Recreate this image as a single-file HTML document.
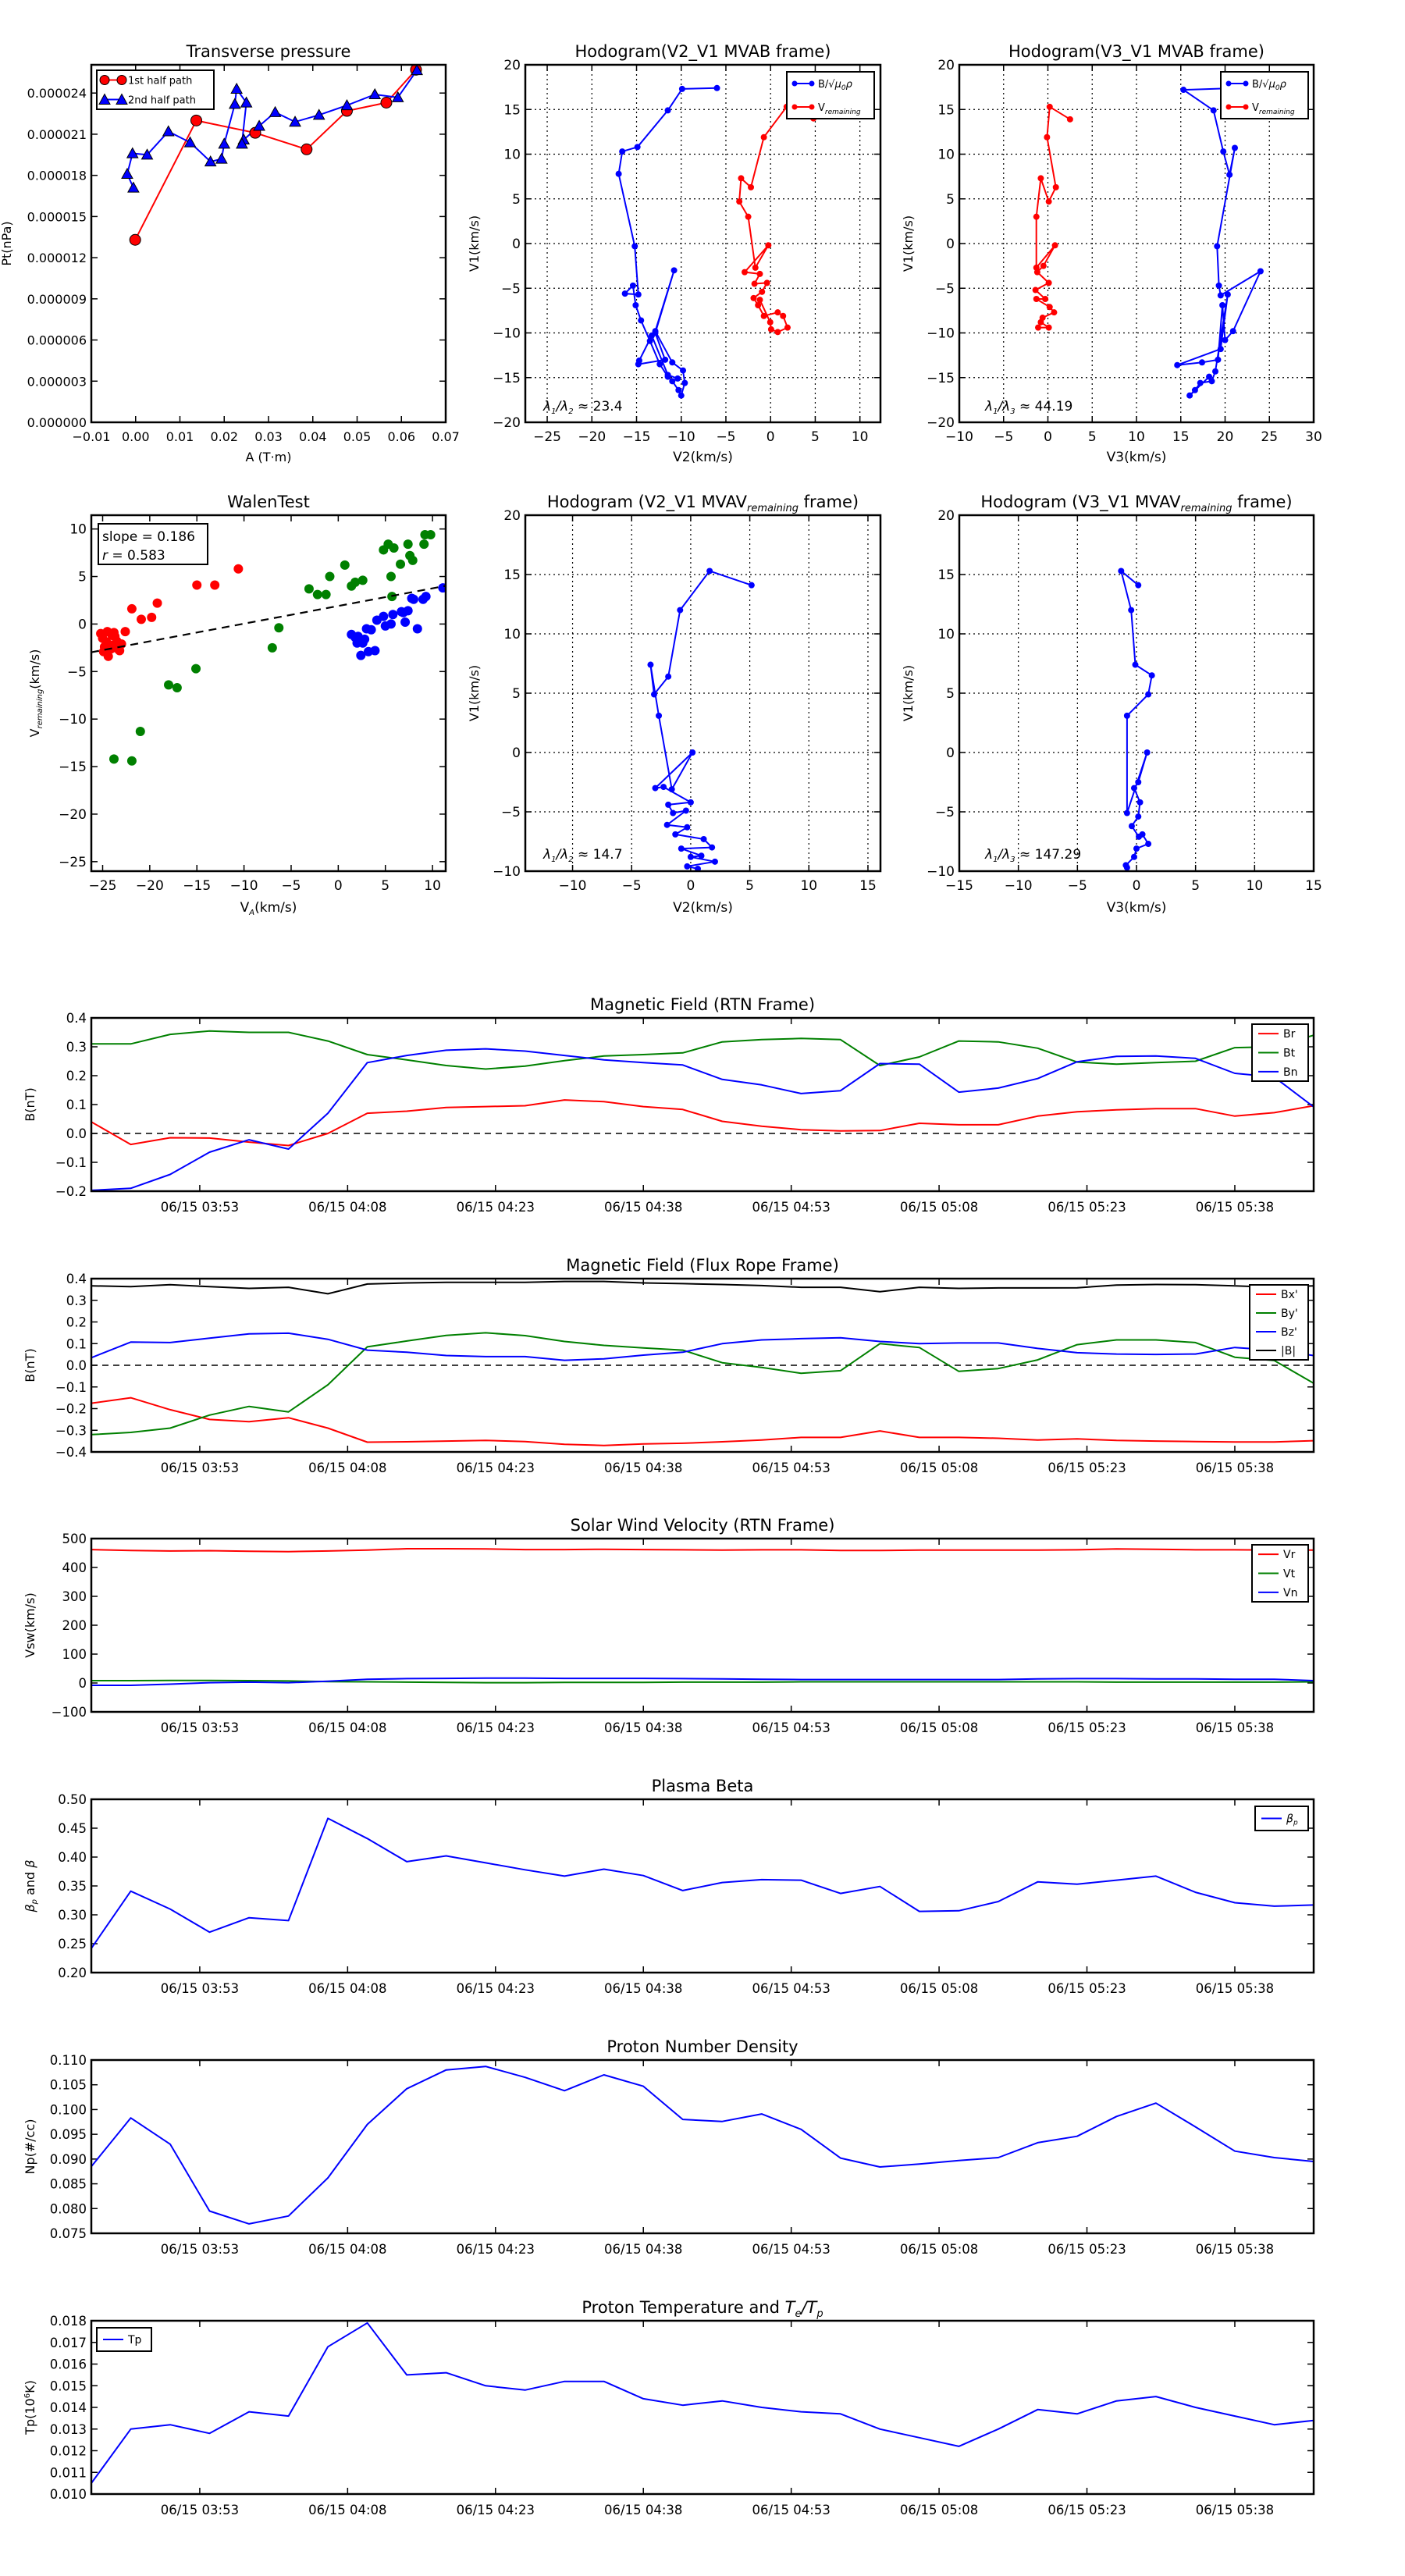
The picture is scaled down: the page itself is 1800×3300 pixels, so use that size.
<!DOCTYPE html>
<html><head><meta charset="utf-8"><style>
html,body{margin:0;padding:0;background:#fff;}
svg{display:block;font-family:"DejaVu Sans","Liberation Sans",sans-serif;}
</style></head><body>
<svg id="fig" xmlns="http://www.w3.org/2000/svg" width="1800" height="3300" viewBox="0 0 1800 3300"></svg>
<script>
// ---------- data ----------
const p1RedA=[-0.1,13.7,27.0,38.6,47.7,56.6,63.3];
const p1RedP=[13.3,22.0,21.1,19.9,22.7,23.3,25.7];
const p1BlueA=[63.5,59.2,54.0,47.7,41.4,36.0,31.5,27.9,24.4,24.0,25.0,22.8,22.4,20.0,19.4,16.9,12.3,7.4,2.6,-0.7,-1.9,-0.5];
const p1BlueP=[25.66,23.68,23.9,23.1,22.4,21.9,22.6,21.6,20.6,20.3,23.3,24.3,23.2,20.3,19.2,19.0,20.4,21.2,19.5,19.6,18.1,17.1];

const h1BlueX=[-6.0,-9.9,-11.5,-14.9,-16.6,-17.0,-15.2,-14.8,-16.3,-15.4,-15.1,-14.5,-13.5,-12.4,-11.5,-11.0,-10.3,-10.0,-9.6,-9.8,-11.0,-12.9,-10.8,-12.9,-11.8,-14.8,-14.7,-13.3,-11.5,-10.4];
const h1BlueY=[17.4,17.3,14.9,10.8,10.3,7.8,-0.3,-5.7,-5.6,-4.7,-6.9,-8.6,-10.9,-13.5,-14.9,-15.4,-16.4,-17.0,-15.6,-14.2,-13.3,-9.8,-3.0,-10.0,-13.0,-13.5,-13.1,-10.3,-14.7,-15.1];
const h1RedX=[4.8,1.8,-0.75,-2.2,-3.3,-3.5,-2.5,-1.7,-0.25,-2.9,-1.2,-1.8,-0.4,-0.96,-1.9,-1.4,-0.75,0.8,1.4,1.9,0.8,0.06,-0.04,-1.2];
const h1RedY=[14.0,15.3,11.9,6.3,7.3,4.7,3.0,-2.7,-0.2,-3.2,-3.4,-4.5,-4.4,-5.4,-6.1,-6.9,-8.1,-7.7,-8.1,-9.4,-9.9,-9.6,-8.8,-6.3];

const h2BlueX=[21.5,15.3,18.7,19.8,20.5,21.1,19.1,19.3,19.5,24.0,20.9,20.0,19.7,19.2,17.4,14.6,19.5,20.3,18.9,18.5,17.2,16.6,16.0,18.2];
const h2BlueY=[17.4,17.2,14.9,10.3,7.7,10.7,-0.3,-4.7,-5.8,-3.1,-9.8,-10.8,-6.9,-13.0,-13.3,-13.6,-11.8,-5.7,-14.3,-15.4,-15.6,-16.4,-17.0,-14.9];
const h2RedX=[2.5,0.2,-0.1,0.9,0.1,-0.8,-1.3,-1.3,0.8,-0.5,-1.2,0.1,-1.4,-0.3,-1.3,0.2,0.7,-0.6,-1.1,0.1,-0.8];
const h2RedY=[13.9,15.3,11.9,6.3,4.7,7.3,3.0,-2.7,-0.2,-2.5,-3.2,-4.4,-5.2,-6.2,-6.2,-7.1,-7.7,-8.3,-9.4,-9.4,-8.8];

const h3X=[5.15,1.6,-0.9,-1.9,-3.1,-3.4,-2.7,-1.6,0.15,-3.0,-2.3,0.0,-1.9,-1.5,-0.4,-2.0,-0.3,-1.3,1.1,1.8,-0.8,0.9,0.0,2.05,-0.3,0.6];
const h3Y=[14.1,15.3,12.0,6.4,4.9,7.4,3.1,-3.1,0.0,-3.0,-2.9,-4.2,-4.4,-5.1,-4.9,-6.1,-6.3,-6.9,-7.3,-8.0,-8.1,-8.7,-8.8,-9.2,-9.6,-9.8];
const h4X=[0.15,-1.3,-0.45,-0.1,1.3,1.0,-0.8,-0.8,0.9,0.15,-0.2,0.3,0.15,-0.4,0.2,0.5,1.0,0.0,-0.2,-0.9,-0.8];
const h4Y=[14.1,15.3,12.0,7.4,6.5,4.9,3.1,-5.1,0.0,-2.5,-3.0,-4.2,-5.4,-6.2,-7.1,-6.9,-7.7,-8.1,-8.8,-9.5,-9.7];

const wRedX=[-24.5,-25,-24.2,-24,-23.5,-23.4,-24.8,-24.4,-23,-22.6,-21.9,-20.9,-19.8,-19.2,-15.0,-13.1,-10.6,-23.7,-24.6,-23.2,-24.1,-25.2,-24.9,-23.8];
const wRedY=[-0.8,-1.5,-2.2,-1.2,-1.8,-2.6,-2.4,-3.4,-2.1,-0.8,1.6,0.5,0.7,2.2,4.1,4.1,5.8,-1.3,-1.9,-2.8,-2.6,-1.0,-2.9,-0.9];
const wGreenX=[-23.8,-21.9,-21.0,-17.1,-18.0,-15.1,-7.0,-6.3,-3.1,-2.2,-1.3,-0.9,0.7,1.4,1.8,2.6,5.6,5.7,4.8,5.3,5.9,6.6,7.4,7.6,7.9,9.1,9.2,9.8];
const wGreenY=[-14.2,-14.4,-11.3,-6.7,-6.4,-4.7,-2.5,-0.4,3.7,3.1,3.1,5.0,6.2,4.0,4.4,4.6,5.0,2.9,7.8,8.4,8.0,6.3,8.4,7.2,6.7,8.4,9.4,9.4];
const wBlueX=[1.4,2.1,2.0,2.4,2.6,3.0,3.2,3.9,4.1,4.8,5.0,5.6,5.8,6.9,7.1,7.4,8.0,8.4,9.0,9.3,11.1,7.8,6.7,2.8,3.5,1.8];
const wBlueY=[-1.1,-1.3,-2.0,-3.3,-2.0,-0.5,-2.9,-2.8,0.4,0.8,-0.2,0.0,1.0,1.2,0.2,1.4,2.6,-0.5,2.6,2.9,3.8,2.7,1.3,-1.6,-0.6,-1.4];
const wSlope=[0.186];
const wIntercept=[1.9];

const tsTickLabels=["06/15 03:53","06/15 04:08","06/15 04:23","06/15 04:38","06/15 04:53","06/15 05:08","06/15 05:23","06/15 05:38"];
const tsTickMinutes=[11,26,41,56,71,86,101,116];
const Br=[0.04,-0.038,-0.015,-0.016,-0.03,-0.042,0.0,0.07,0.077,0.09,0.093,0.096,0.116,0.11,0.093,0.083,0.042,0.025,0.013,0.009,0.01,0.035,0.03,0.03,0.06,0.075,0.082,0.086,0.086,0.06,0.072,0.096];
const Bt=[0.31,0.31,0.343,0.355,0.35,0.35,0.32,0.273,0.255,0.235,0.223,0.233,0.252,0.268,0.273,0.279,0.317,0.325,0.329,0.325,0.235,0.265,0.32,0.317,0.295,0.247,0.24,0.245,0.25,0.297,0.3,0.34];
const Bn=[-0.197,-0.19,-0.142,-0.065,-0.022,-0.054,0.07,0.245,0.27,0.288,0.293,0.285,0.27,0.255,0.245,0.237,0.187,0.168,0.138,0.148,0.242,0.24,0.143,0.157,0.19,0.248,0.267,0.268,0.26,0.208,0.195,0.092];
const Bxp=[-0.175,-0.15,-0.205,-0.25,-0.26,-0.242,-0.29,-0.355,-0.353,-0.35,-0.347,-0.352,-0.365,-0.37,-0.363,-0.36,-0.353,-0.345,-0.333,-0.333,-0.303,-0.333,-0.333,-0.337,-0.345,-0.34,-0.347,-0.35,-0.352,-0.354,-0.354,-0.348];
const Byp=[-0.32,-0.31,-0.29,-0.23,-0.19,-0.215,-0.09,0.085,0.112,0.138,0.15,0.137,0.11,0.092,0.08,0.07,0.012,-0.01,-0.037,-0.025,0.1,0.082,-0.028,-0.015,0.025,0.095,0.117,0.117,0.105,0.037,0.022,-0.083];
const Bzp=[0.035,0.107,0.105,0.125,0.145,0.148,0.12,0.07,0.06,0.045,0.04,0.04,0.023,0.03,0.047,0.06,0.1,0.117,0.123,0.127,0.11,0.1,0.103,0.103,0.078,0.058,0.052,0.05,0.052,0.082,0.07,0.045];
const Bmag=[0.367,0.363,0.372,0.363,0.355,0.36,0.33,0.375,0.38,0.383,0.383,0.383,0.387,0.387,0.38,0.377,0.373,0.368,0.36,0.36,0.34,0.36,0.355,0.357,0.357,0.358,0.37,0.373,0.372,0.367,0.36,0.367];
const Vr=[462,459,457,458,456,455,457,460,465,465,464,462,462,463,462,461,460,461,461,459,459,460,460,460,460,461,464,463,461,461,460,460];
const Vt=[8,8,9,9,8,7,5,4,3,2,1,1,2,2,2,3,3,3,4,4,4,4,4,4,4,4,3,3,3,3,3,4];
const Vn=[-8,-8,-4,1,3,1,6,13,15,16,17,17,16,16,16,15,14,13,12,12,12,12,12,12,14,15,15,14,14,13,13,8];
const betaP=[0.242,0.341,0.31,0.27,0.295,0.29,0.467,0.432,0.392,0.402,0.39,0.378,0.367,0.379,0.368,0.342,0.356,0.361,0.36,0.337,0.349,0.306,0.307,0.323,0.357,0.353,0.36,0.367,0.339,0.321,0.315,0.317];
const Np=[0.0885,0.0983,0.093,0.0795,0.0769,0.0785,0.0862,0.097,0.1042,0.108,0.1087,0.1065,0.1038,0.107,0.1047,0.098,0.0976,0.0991,0.096,0.0902,0.0884,0.089,0.0897,0.0903,0.0933,0.0946,0.0986,0.1013,0.0965,0.0916,0.0903,0.0895];
const Tp=[0.0105,0.0130,0.0132,0.0128,0.0138,0.0136,0.0168,0.0179,0.0155,0.0156,0.0150,0.0148,0.0152,0.0152,0.0144,0.0141,0.0143,0.0140,0.0138,0.0137,0.0130,0.0126,0.0122,0.0130,0.0139,0.0137,0.0143,0.0145,0.0140,0.0136,0.0132,0.0134];

// ---------- helpers ----------
const NS="http://www.w3.org/2000/svg";
const svg=document.getElementById('fig');
let clipN=0;
function mk(tag,attrs,parent,txt){const e=document.createElementNS(NS,tag);for(const k in attrs)e.setAttribute(k,attrs[k]);if(txt!==undefined)e.textContent=txt;(parent||svg).appendChild(e);return e;}
function fmt(v,d){const s=Math.abs(v).toFixed(d);return (v<-1e-12?'\u2212':'')+s;}

function axes(o){
  const g=mk('g',{});
  
  
  const X=v=>o.l+(v-o.xmin)/(o.xmax-o.xmin)*(o.r-o.l);
  const Y=v=>o.b-(v-o.ymin)/(o.ymax-o.ymin)*(o.b-o.t);
  clipN++;
  const cp=mk('clipPath',{id:'c'+clipN},g);
  mk('rect',{x:o.l,y:o.t,width:o.r-o.l,height:o.b-o.t},cp);
  const fs=o.fs||17;
  for(let i=0;i<o.xt.length;i++){
    const x=X(o.xt[i]);
    if(o.grid){const gl=mk('line',{x1:x,x2:x,y1:o.t,y2:o.b,stroke:'#000','stroke-width':1.2,'stroke-dasharray':'2,4'},g);
      
      }
    mk('line',{x1:x,x2:x,y1:o.b,y2:o.b-8,stroke:'#000','stroke-width':1.5},g);
    mk('line',{x1:x,x2:x,y1:o.t,y2:o.t+8,stroke:'#000','stroke-width':1.5},g);
    const tl=mk('text',{x:x,y:o.b+(o.xlOff||24),'font-size':fs,'text-anchor':'middle'},g,o.xtl[i]);
    
    
  }
  for(let i=0;i<o.yt.length;i++){
    const y=Y(o.yt[i]);
    if(o.grid){const gl=mk('line',{x1:o.l,x2:o.r,y1:y,y2:y,stroke:'#000','stroke-width':1.2,'stroke-dasharray':'2,4'},g);
      
      }
    mk('line',{x1:o.l,x2:o.l+8,y1:y,y2:y,stroke:'#000','stroke-width':1.5},g);
    mk('line',{x1:o.r,x2:o.r-8,y1:y,y2:y,stroke:'#000','stroke-width':1.5},g);
    const tl=mk('text',{x:o.l-6,y:y+6,'font-size':fs,'text-anchor':'end'},g,o.ytl[i]);
    
    
  }
  const ti=mk('text',{x:(o.l+o.r)/2,y:o.t-10,'font-size':o.tfs||21,'text-anchor':'middle'},g);
  ti.innerHTML=o.title;
  
  
  if(o.xlabel){const xl=mk('text',{x:(o.l+o.r)/2,y:o.xlY,'font-size':fs,'text-anchor':'middle'},g);
    xl.innerHTML=o.xlabel;
    
    }
  if(o.ylabel){const yc=(o.t+o.b)/2;const yl=mk('text',{x:o.ylX,y:yc,'font-size':o.ylfs||16,'text-anchor':'middle',transform:'rotate(-90 '+o.ylX+' '+yc+')'},g);
    yl.innerHTML=o.ylabel;
    
    }
  const data=mk('g',{'clip-path':'url(#c'+clipN+')'},g);
  const fr=mk('rect',{x:o.l,y:o.t,width:o.r-o.l,height:o.b-o.t,fill:'none',stroke:'#000','stroke-width':2.5},g);
  
  
  return {X,Y,g,data,o};
}
function line(ax,xs,ys,color,name,w,dash){
  let d='';for(let i=0;i<xs.length;i++)d+=(i?'L':'M')+ax.X(xs[i]).toFixed(1)+','+ax.Y(ys[i]).toFixed(1);
  const p=mk('path',{d:d,fill:'none',stroke:color,'stroke-width':w||2,'stroke-linejoin':'round'},ax.data);
  if(dash)p.setAttribute('stroke-dasharray',dash);
  
  
  return p;
}
function dots(ax,xs,ys,color,name,r,edge){
  for(let i=0;i<xs.length;i++){
    const c=mk('circle',{cx:ax.X(xs[i]),cy:ax.Y(ys[i]),r:r,fill:color},ax.data);
    if(edge){c.setAttribute('stroke','#000');c.setAttribute('stroke-width',1);}
    
    
  }
}
function tris(ax,xs,ys,color,name,s){
  for(let i=0;i<xs.length;i++){
    const x=ax.X(xs[i]),y=ax.Y(ys[i]);
    const p=mk('polygon',{points:`${x},${y-s} ${x-s},${y+s*0.8} ${x+s},${y+s*0.8}`,fill:color,stroke:'#000','stroke-width':1},ax.data);
    
    
  }
}
function range(a,b,s){const r=[];for(let v=a;v<=b+1e-9;v+=s)r.push(Math.round(v*1e6)/1e6);return r;}
function legend(x,y,w,h,items,fs,marker){
  const g=mk('g',{});
  
  
  mk('rect',{x:x,y:y,width:w,height:h,fill:'#fff',stroke:'#000','stroke-width':2},g);
  const step=h/items.length;
  items.forEach((it,i)=>{
    const cy=y+step*(i+0.5);
    const e=mk('g',{},g);
    
    
    mk('line',{x1:x+8,x2:x+34,y1:cy,y2:cy,stroke:it.c,'stroke-width':2},e);
    if(marker==='dot'){mk('circle',{cx:x+10,cy:cy,r:3.5,fill:it.c},e);mk('circle',{cx:x+32,cy:cy,r:3.5,fill:it.c},e);}
    if(marker==='big'){
      if(it.m==='o'){mk('circle',{cx:x+10,cy:cy,r:6,fill:it.c,stroke:'#000'},e);mk('circle',{cx:x+32,cy:cy,r:6,fill:it.c,stroke:'#000'},e);}
      else{[x+10,x+32].forEach(px=>mk('polygon',{points:`${px},${cy-7} ${px-7},${cy+6} ${px+7},${cy+6}`,fill:it.c,stroke:'#000'},e));}
    }
    const t=mk('text',{x:x+40,y:cy+5,'font-size':fs},e);
    t.innerHTML=it.t;
  });
}

// ---------- top row ----------
const R1T=83,R1B=541,R2T=660,R2B=1116;
const CA=[117,571],CB=[673,1128],CC=[1229,1683];

const a1=axes({name:'transverse-pressure-chart',l:CA[0],r:CA[1],t:R1T,b:R1B,xmin:-10,xmax:70,ymin:0,ymax:26.06,
  xt:range(-10,70,10),xtl:range(-10,70,10).map(v=>fmt(v/1000,2)),yt:range(0,24,3),ytl:range(0,24,3).map(v=>(v/1e6).toFixed(6)),
  title:'Transverse pressure',xlabel:'A (T·m)',xlY:591,ylabel:'Pt(nPa)',ylX:14,fs:16});
line(a1,p1RedA,p1RedP,'#f00','first-half-path-line',2);
line(a1,p1BlueA,p1BlueP,'#00f','second-half-path-line',2);
dots(a1,p1RedA,p1RedP,'#f00','first-half-point',7,true);
tris(a1,p1BlueA,p1BlueP,'#00f','second-half-point',7);
legend(124,90,150,50,[{c:'#f00',t:'1st half path',m:'o'},{c:'#00f',t:'2nd half path',m:'t'}],13,'big');

const B1='B/\u221A<tspan font-style="italic">μ<tspan font-size="9" dy="3">0</tspan><tspan dy="-3">ρ</tspan></tspan>';
const VREM='V<tspan font-size="9" font-style="italic" dy="4">remaining</tspan>';

const a2=axes({name:'hodogram-v2-v1-mvab',l:CB[0],r:CB[1],t:R1T,b:R1B,xmin:-27.45,xmax:12.3,ymin:-20,ymax:20,grid:true,
  xt:range(-25,10,5),xtl:range(-25,10,5).map(v=>fmt(v,0)),yt:range(-20,20,5),ytl:range(-20,20,5).map(v=>fmt(v,0)),
  title:'Hodogram(V2_V1 MVAB frame)',xlabel:'V2(km/s)',xlY:591,ylabel:'V1(km/s)',ylX:613});
line(a2,h1BlueX,h1BlueY,'#00f','b-alfven-hodogram-line',2);
dots(a2,h1BlueX,h1BlueY,'#00f','b-alfven-point',4);
line(a2,h1RedX,h1RedY,'#f00','v-remaining-hodogram-line',2);
dots(a2,h1RedX,h1RedY,'#f00','v-remaining-point',4);
legend(1008,92,112,60,[{c:'#00f',t:B1},{c:'#f00',t:VREM}],13,'dot');
{const t=mk('text',{x:696,y:526,'font-size':17},svg);t.innerHTML='<tspan font-style="italic">λ<tspan font-size="10" dy="4">1</tspan><tspan dy="-4">/λ</tspan><tspan font-size="10" dy="4">2</tspan></tspan><tspan dy="-4"> ≈ 23.4</tspan>';

}

const a3=axes({name:'hodogram-v3-v1-mvab',l:CC[0],r:CC[1],t:R1T,b:R1B,xmin:-10,xmax:30,ymin:-20,ymax:20,grid:true,
  xt:range(-10,30,5),xtl:range(-10,30,5).map(v=>fmt(v,0)),yt:range(-20,20,5),ytl:range(-20,20,5).map(v=>fmt(v,0)),
  title:'Hodogram(V3_V1 MVAB frame)',xlabel:'V3(km/s)',xlY:591,ylabel:'V1(km/s)',ylX:1169});
line(a3,h2BlueX,h2BlueY,'#00f','b-alfven-hodogram-line',2);
dots(a3,h2BlueX,h2BlueY,'#00f','b-alfven-point',4);
line(a3,h2RedX,h2RedY,'#f00','v-remaining-hodogram-line',2);
dots(a3,h2RedX,h2RedY,'#f00','v-remaining-point',4);
legend(1564,92,112,60,[{c:'#00f',t:B1},{c:'#f00',t:VREM}],13,'dot');
{const t=mk('text',{x:1262,y:526,'font-size':17},svg);t.innerHTML='<tspan font-style="italic">λ<tspan font-size="10" dy="4">1</tspan><tspan dy="-4">/λ</tspan><tspan font-size="10" dy="4">3</tspan></tspan><tspan dy="-4"> ≈ 44.19</tspan>';

}

// ---------- second row ----------
const a4=axes({name:'walen-test-chart',l:CA[0],r:CA[1],t:R2T,b:R2B,xmin:-26.2,xmax:11.4,ymin:-26.0,ymax:11.45,
  xt:range(-25,10,5),xtl:range(-25,10,5).map(v=>fmt(v,0)),yt:range(-25,10,5),ytl:range(-25,10,5).map(v=>fmt(v,0)),
  title:'WalenTest',xlabel:'V<tspan font-size="10" font-style="italic" dy="4">A</tspan><tspan dy="-4">(km/s)</tspan>',xlY:1168,
  ylabel:'V<tspan font-size="10" font-style="italic" dy="4">remaining</tspan><tspan dy="-4">(km/s)</tspan>',ylX:50});
dots(a4,wRedX,wRedY,'#f00','walen-point-red',6);
dots(a4,wGreenX,wGreenY,'#008000','walen-point-green',6);
dots(a4,wBlueX,wBlueY,'#00f','walen-point-blue',6);
{const fx=[-26.2,11.4];const fy=fx.map(v=>wSlope[0]*v+wIntercept[0]);
line(a4,fx,fy,'#000','walen-fit-line',2.2,'10,7');}
{const g=mk('g',{});
mk('rect',{x:126,y:671,width:140,height:52,fill:'#fff',stroke:'#000','stroke-width':2},g);
mk('text',{x:131,y:693,'font-size':17},g,'slope = '+wSlope[0].toFixed(3));
const t=mk('text',{x:131,y:717,'font-size':17},g);t.innerHTML='<tspan font-style="italic">r</tspan> = 0.583';}

const a5=axes({name:'hodogram-v2-v1-mvav',l:CB[0],r:CB[1],t:R2T,b:R2B,xmin:-14.0,xmax:16.06,ymin:-10,ymax:20,grid:true,
  xt:range(-10,15,5),xtl:range(-10,15,5).map(v=>fmt(v,0)),yt:range(-10,20,5),ytl:range(-10,20,5).map(v=>fmt(v,0)),
  title:'Hodogram (V2_V1 MVAV<tspan font-size="13" font-style="italic" dy="5">remaining</tspan><tspan dy="-5"> frame)</tspan>',xlabel:'V2(km/s)',xlY:1168,ylabel:'V1(km/s)',ylX:613});
line(a5,h3X,h3Y,'#00f','hodogram-line',2);
dots(a5,h3X,h3Y,'#00f','hodogram-point',4);
{const t=mk('text',{x:696,y:1100,'font-size':17},svg);t.innerHTML='<tspan font-style="italic">λ<tspan font-size="10" dy="4">1</tspan><tspan dy="-4">/λ</tspan><tspan font-size="10" dy="4">2</tspan></tspan><tspan dy="-4"> ≈ 14.7</tspan>';

}

const a6=axes({name:'hodogram-v3-v1-mvav',l:CC[0],r:CC[1],t:R2T,b:R2B,xmin:-15,xmax:15,ymin:-10,ymax:20,grid:true,
  xt:range(-15,15,5),xtl:range(-15,15,5).map(v=>fmt(v,0)),yt:range(-10,20,5),ytl:range(-10,20,5).map(v=>fmt(v,0)),
  title:'Hodogram (V3_V1 MVAV<tspan font-size="13" font-style="italic" dy="5">remaining</tspan><tspan dy="-5"> frame)</tspan>',xlabel:'V3(km/s)',xlY:1168,ylabel:'V1(km/s)',ylX:1169});
line(a6,h4X,h4Y,'#00f','hodogram-line',2);
dots(a6,h4X,h4Y,'#00f','hodogram-point',4);
{const t=mk('text',{x:1262,y:1100,'font-size':17},svg);t.innerHTML='<tspan font-style="italic">λ<tspan font-size="10" dy="4">1</tspan><tspan dy="-4">/λ</tspan><tspan font-size="10" dy="4">3</tspan></tspan><tspan dy="-4"> ≈ 147.29</tspan>';

}

// ---------- time series ----------
const idx=Br.map((_,i)=>i*4);
function ts(name,top,ymin,ymax,ystep,dec,title,ylabel){
  const yt=range(ymin,ymax,ystep);
  return axes({name:name,l:117,r:1683,t:top,b:top+222,xmin:0,xmax:124,ymin:ymin,ymax:ymax,
    xt:tsTickMinutes,xtl:tsTickLabels,yt:yt,ytl:yt.map(v=>fmt(v,dec)),title:title,ylabel:ylabel,ylX:44,fs:16.5,xlOff:26,tfs:21});
}
const t1=ts('magnetic-field-rtn-chart',1304,-0.2,0.4,0.1,1,'Magnetic Field (RTN Frame)','B(nT)');
line(t1,[0,124],[0,0],'#000','zero-line',1.5,'8,6');
line(t1,idx,Br,'#f00','br-line');line(t1,idx,Bt,'#008000','bt-line');line(t1,idx,Bn,'#00f','bn-line');
legend(1604,1312,72,73,[{c:'#f00',t:'Br'},{c:'#008000',t:'Bt'},{c:'#00f',t:'Bn'}],14);

const t2=ts('magnetic-field-flux-rope-chart',1638,-0.4,0.4,0.1,1,'Magnetic Field (Flux Rope Frame)','B(nT)');
line(t2,[0,124],[0,0],'#000','zero-line',1.5,'8,6');
line(t2,idx,Bxp,'#f00','bx-prime-line');line(t2,idx,Byp,'#008000','by-prime-line');line(t2,idx,Bzp,'#00f','bz-prime-line');line(t2,idx,Bmag,'#000','b-magnitude-line');
legend(1601,1646,75,96,[{c:'#f00',t:"Bx'"},{c:'#008000',t:"By'"},{c:'#00f',t:"Bz'"},{c:'#000',t:'|B|'}],14);

const t3=ts('solar-wind-velocity-chart',1971,-100,500,100,0,'Solar Wind Velocity (RTN Frame)','Vsw(km/s)');
line(t3,idx,Vr,'#f00','vr-line');line(t3,idx,Vt,'#008000','vt-line');line(t3,idx,Vn,'#00f','vn-line');
legend(1604,1979,72,73,[{c:'#f00',t:'Vr'},{c:'#008000',t:'Vt'},{c:'#00f',t:'Vn'}],14);

const t4=ts('plasma-beta-chart',2305,0.2,0.5,0.05,2,'Plasma Beta','<tspan font-style="italic">β<tspan font-size="10" dy="3">p</tspan></tspan><tspan dy="-3"> and </tspan><tspan font-style="italic">β</tspan>');
line(t4,idx,betaP,'#00f','beta-p-line');
legend(1608,2314,68,31,[{c:'#00f',t:'<tspan font-style="italic">β<tspan font-size="9" dy="3">p</tspan></tspan>'}],14);

const t5=ts('proton-density-chart',2639,0.075,0.110,0.005,3,'Proton Number Density','Np(#/cc)');
line(t5,idx,Np,'#00f','np-line');

const t6=ts('proton-temperature-chart',2973,0.010,0.018,0.001,3,'Proton Temperature and <tspan font-style="italic">T<tspan font-size="13" dy="5">e</tspan><tspan dy="-5">/T</tspan><tspan font-size="13" dy="5">p</tspan></tspan>','Tp(10<tspan font-size="10" dy="-6">6</tspan><tspan dy="6">K)</tspan>');
line(t6,idx,Tp,'#00f','tp-line');
legend(124,2982,70,30,[{c:'#00f',t:'Tp'}],14);
</script>
</body></html>
